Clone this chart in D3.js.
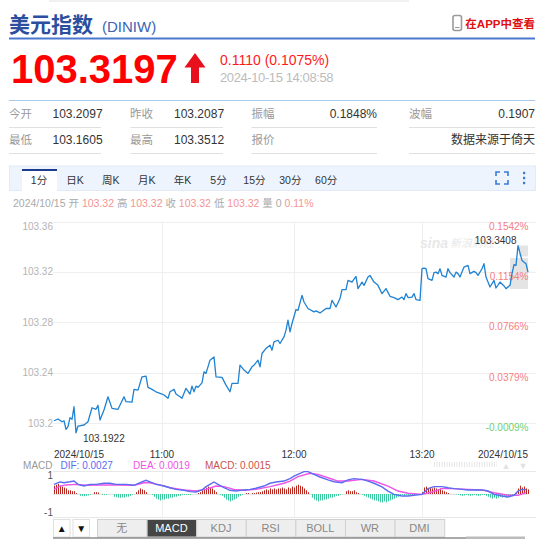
<!DOCTYPE html>
<html>
<head>
<meta charset="utf-8">
<script src="https://cdn.jsdelivr.net/npm/d3@7"></script>
<style>
  body { margin: 0; background: #fff; }
  svg { display: block; font-family: "Liberation Sans", Arial, "Noto Sans CJK SC", sans-serif; }
</style>
</head>
<body>
<div id="chart"></div>
<script>
// minute index of each sampled point and its price
var minuteIdx = [0,2,4,5,6,7,8,9,10,11,12,15,17,19,21,22,23,25,27,29,
  32,35,36,39,40,42,44,46,47,49,51,54,55,57,58,60,61,63,64,66,
  68,69,70,71,72,74,75,76,78,80,81,84,86,88,89,92,93,95,97,99,
  100,102,103,104,106,108,109,110,112,113,115,116,117,118,119,121,122,124,125,127,
  130,131,133,136,138,139,141,143,144,146,147,149,151,152,154,155,157,158,160,162,
  164,166,168,170,172,174,175,176,177,179,180,181,183,184,185,186,187,189,190,191,
  192,193,194,196,197,198,200,201,202,203,205,207,208,210,211,212,214,215,216,218,
  220,221,223,225,226,228,229,230,231,232,234,236,237];
var prices = [103.2018,103.2032,103.2010,103.2018,103.1950,103.1971,103.2042,103.2029,103.2129,103.1922,103.1976,103.1984,103.2010,103.2121,103.2109,103.2140,103.2024,103.2103,103.2208,103.2116,
  103.2109,103.2208,103.2169,103.2166,103.2267,103.2261,103.2367,103.2372,103.2283,103.2267,103.2248,103.2230,103.2222,103.2196,103.2248,103.2267,103.2230,103.2208,103.2196,103.2275,
  103.2230,103.2293,103.2248,103.2293,103.2283,103.2319,103.2406,103.2394,103.2499,103.2525,103.2367,103.2362,103.2301,103.2248,103.2314,103.2314,103.2459,103.2420,103.2394,103.2446,
  103.2459,103.2499,103.2446,103.2552,103.2592,103.2618,103.2578,103.2644,103.2657,103.2631,103.2684,103.2737,103.2816,103.2723,103.2790,103.2901,103.2895,103.3014,103.2961,103.2909,
  103.2882,103.2890,103.2874,103.2909,103.2909,103.2974,103.2921,103.2988,103.3059,103.3059,103.3133,103.3119,103.3164,103.3067,103.3119,103.3093,103.3159,103.3172,103.3119,103.3093,
  103.3027,103.3067,103.3006,103.2996,103.2980,103.3000,103.2980,103.3027,103.2996,103.3000,103.3027,103.2980,103.2974,103.3225,103.3230,103.3225,103.3146,103.3133,103.3194,103.3198,
  103.3186,103.3225,103.3172,103.3159,103.3225,103.3194,103.3159,103.3198,103.3186,103.3159,103.3238,103.3251,103.3186,103.3204,103.3194,103.3172,103.3225,103.3265,103.3159,103.3080,
  103.3133,103.3072,103.3119,103.3088,103.3067,103.3093,103.3186,103.3257,103.3251,103.3408,103.3291,103.3265,103.3197];

var yTicks = [103.2, 103.24, 103.28, 103.32, 103.36];
var yTickLabels = ["103.2", "103.24", "103.28", "103.32", "103.36"];
var pctLabels = ["-0.0009%", "0.0379%", "0.0766%", "0.1154%", "0.1542%"];
var timeTickIdx = [0, 54, 120, 184, 237];
var timeTickLabels = ["2024/10/15", "11:00", "12:00", "13:20", "2024/10/15"];

// MACD indicator
var difIdx = [0,3,5,8,10,12,15,18,21,25,28,31,36,40,43,46,48,51,55,58,61,65,68,71,74,76,78,80,82,85,88,91,95,98,101,105,108,111,115,118,
  120,125,127,130,133,137,140,144,147,150,154,157,160,164,167,170,174,177,180,184,187,190,194,197,200,204,207,210,214,217,220,224,227,230,232,234,236];
var difVals = [0.52,0.65,0.61,0.66,0.70,0.52,0.43,0.52,0.52,0.58,0.58,0.52,0.52,0.47,0.61,0.74,0.66,0.52,0.43,0.34,0.25,0.20,0.13,0.11,0.22,0.40,0.52,0.65,0.52,0.34,0.20,0.16,0.22,0.25,0.31,0.43,0.58,0.65,0.70,0.83,
  0.97,1.21,1.21,1.06,0.92,0.76,0.66,0.61,0.76,0.83,0.79,0.70,0.58,0.38,0.16,-0.02,-0.11,-0.11,-0.07,-0.02,0.29,0.40,0.40,0.34,0.29,0.25,0.22,0.22,0.22,0.16,-0.02,-0.11,-0.16,-0.07,0.16,0.25,0.22];
var deaIdx = [0,3,6,11,16,23,31,40,45,48,53,58,65,71,76,81,85,90,95,101,108,115,118,122,128,132,137,142,147,154,160,167,172,177,184,189,194,200,207,214,220,227,232,236];
var deaVals = [0.25,0.43,0.49,0.52,0.47,0.49,0.49,0.47,0.61,0.61,0.49,0.34,0.22,0.16,0.25,0.43,0.40,0.25,0.20,0.25,0.40,0.58,0.70,0.94,1.12,1.06,0.88,0.70,0.70,0.79,0.70,0.43,0.16,0.04,-0.02,0.11,0.29,0.29,0.25,0.22,0.07,-0.07,-0.07,0.07];
var macdBars = [
  0.45,0.5,0.55,0.45,0.4,0.35,0.3,
  0.2,0.2,0.15,0.15,
  0.05,0,
  -0.1,-0.12,-0.12,-0.1,-0.08,-0.05,
  0,0.1,0.1,
  0.08,0,
  -0.05,-0.05,-0.05,
  0,0,0,
  -0.15,-0.18,-0.2,-0.2,-0.18,-0.2,-0.15,-0.15,-0.1,
  -0.05,0,
  0.1,0.2,0.3,0.25,0.2,0.1,
  0,0,-0.05,
  -0.15,-0.25,-0.3,-0.35,-0.3,-0.3,-0.25,-0.25,-0.2,-0.2,-0.15,-0.15,-0.1,-0.1,
  -0.05,-0.05,-0.05,-0.05,-0.05,
  0,0,0,0.05,
  0.1,0.2,0.3,0.35,0.4,0.35,0.3,0.2,0.1,
  0,-0.05,
  -0.1,-0.2,-0.3,-0.35,-0.4,-0.35,-0.3,-0.25,-0.15,-0.1,
  -0.05,0,0.05,0.05,0,0.05,0.05,0.08,0.1,0.1,0.15,
  0.2,0.25,0.2,0.3,0.25,0.3,0.25,0.3,0.3,0.35,0.3,0.25,
  0.35,0.3,0.4,0.35,0.45,0.5,0.45,0.4,0.3,0.2,0.1,
  0,
  -0.2,-0.3,-0.35,-0.4,-0.35,-0.35,-0.3,-0.3,-0.25,-0.2,-0.2,-0.15,-0.1,-0.1,-0.05,
  0,0,
  0.15,0.2,0.15,0.15,0.2,0.1,0.05,
  0,-0.05,
  -0.1,-0.15,-0.2,-0.25,-0.3,-0.35,-0.35,-0.4,-0.45,-0.45,-0.4,-0.45,-0.4,-0.35,-0.3,-0.25,-0.2,-0.15,
  -0.1,-0.05,-0.1,-0.05,-0.08,-0.05,-0.05,-0.05,-0.03,0,0,
  0.1,
  0.35,0.4,0.3,0.35,0.3,0.35,0.3,0.25,0.3,0.2,0.15,
  0.1,0.05,0,0,0,-0.03,
  -0.05,-0.08,-0.1,-0.08,-0.05,-0.08,-0.1,-0.08,-0.05,-0.08,-0.1,-0.08,-0.05,-0.05,
  -0.1,
  -0.15,-0.2,-0.25,-0.2,-0.25,-0.2,-0.15,-0.2,-0.15,-0.2,-0.1,-0.1,-0.05,
  0,0.1,
  0.3,0.45,0.35,0.4,0.3,0.25];

var statsRow1 = [["今开", "103.2097"], ["昨收", "103.2087"], ["振幅", "0.1848%"], ["波幅", "0.1907"]];
var statsRow2 = [["最低", "103.1605"], ["最高", "103.3512"], ["报价", ""], ["", "数据来源于倚天"]];
var periodTabs = ["1分", "日K", "周K", "月K", "年K", "5分", "15分", "30分", "60分"];
var indicatorTabs = ["无", "MACD", "KDJ", "RSI", "BOLL", "WR", "DMI"];
var quoteParts = [["2024/10/15 ", 0], ["开 ", 0], ["103.32 ", 1], ["高 ", 0], ["103.32 ", 1], ["收 ", 0], ["103.32 ", 1], ["低 ", 0], ["103.32 ", 1], ["量 0 ", 0], ["0.11%", 1]];

var svg = d3.select("#chart").append("svg")
    .attr("width", 550)
    .attr("height", 539);

// header
svg.append("line").attr("x1", 49).attr("x2", 409).attr("y1", 1).attr("y2", 1).attr("stroke", "#e2e2e2");
svg.append("text").attr("x", 9).attr("y", 32).attr("font-size", 21).attr("font-weight", "bold")
    .attr("fill", "#2b4f9e").text("美元指数");
svg.append("text").attr("x", 102).attr("y", 32).attr("font-size", 15).attr("fill", "#3b64b5").text("(DINIW)");
svg.append("rect").attr("x", 9).attr("y", 37.5).attr("width", 526).attr("height", 2).attr("fill", "#4a78cf");

svg.append("rect").attr("x", 453).attr("y", 15.5).attr("width", 8.5).attr("height", 15).attr("rx", 2)
    .attr("fill", "none").attr("stroke", "#9a9a9a").attr("stroke-width", 1.6);
svg.append("line").attr("x1", 455).attr("x2", 459.5).attr("y1", 27.5).attr("y2", 27.5).attr("stroke", "#9a9a9a");
svg.append("text").attr("x", 535).attr("y", 27.5).attr("text-anchor", "end").attr("font-size", 11.5)
    .attr("font-weight", "bold").attr("fill", "#e01010").text("在APP中查看");

svg.append("text").attr("x", 11).attr("y", 83).attr("font-size", 40).attr("font-weight", "bold")
    .attr("fill", "#ff0000").text("103.3197");
svg.append("path").attr("d", "M195,53 L205.5,67.5 L199,67.5 L199,83 L191,83 L191,67.5 L184.5,67.5 Z")
    .attr("fill", "#e8101c");
svg.append("text").attr("x", 220).attr("y", 65).attr("font-size", 14).attr("fill", "#ff1a1a").text("0.1110 (0.1075%)");
svg.append("text").attr("x", 220).attr("y", 82).attr("font-size", 13).attr("letter-spacing", -0.4)
    .attr("fill", "#bcbcbc").text("2024-10-15 14:08:58");

svg.append("line").attr("x1", 9).attr("x2", 535).attr("y1", 100.5).attr("y2", 100.5).attr("stroke", "#a9c9ee");

// stats table
var colLabelX = [9, 130, 251.5, 409];
var colValX = [52.5, 174, 377, 535];
var colAnchor = ["start", "start", "end", "end"];
var sepSpans = [[9, 101], [130.5, 223], [251.5, 377], [409, 535]];
[statsRow1, statsRow2].forEach(function(row, r) {
    var by = 118 + r * 26;
    row.forEach(function(cell, c) {
        svg.append("text").attr("x", colLabelX[c]).attr("y", by).attr("font-size", 11.5)
            .attr("fill", "#9a9a9a").text(cell[0]);
        svg.append("text").attr("x", colValX[c]).attr("y", by).attr("font-size", 12)
            .attr("text-anchor", colAnchor[c]).attr("fill", "#333").text(cell[1]);
        svg.append("line").attr("x1", sepSpans[c][0]).attr("x2", sepSpans[c][1])
            .attr("y1", by + 9.5).attr("y2", by + 9.5).attr("stroke", "#e0e0e0");
    });
});

// period tab bar
svg.append("rect").attr("x", 9.5).attr("y", 166).attr("width", 526).attr("height", 24.5)
    .attr("fill", "#eef4fd").attr("stroke", "#e1eaf6");
svg.append("rect").attr("x", 22).attr("y", 170).attr("width", 35).attr("height", 21).attr("fill", "#fff");
svg.append("rect").attr("x", 22).attr("y", 169).attr("width", 35).attr("height", 2).attr("fill", "#1b3d8f");
svg.selectAll(".ptab").data(periodTabs).enter().append("text")
    .attr("class", "ptab")
    .attr("x", (d, i) => 39 + i * 35.9)
    .attr("y", 184)
    .attr("text-anchor", "middle")
    .attr("font-size", 10.5)
    .attr("fill", "#333")
    .text(d => d);
svg.append("path")
    .attr("d", "M496,176 V172 H500 M504,172 H508 V176 M508,180 V184 H504 M500,184 H496 V180")
    .attr("fill", "none").attr("stroke", "#3a7bd5").attr("stroke-width", 1.6);
[173, 178, 183].forEach(function(cy) {
    svg.append("rect").attr("x", 523).attr("y", cy - 1.2).attr("width", 2.2).attr("height", 2.4).attr("fill", "#3a7bd5");
});

// quote line
var quote = svg.append("text").attr("x", 13).attr("y", 206.5).attr("font-size", 10.5);
quoteParts.forEach(function(p) {
    quote.append("tspan").attr("fill", p[1] ? "#f59494" : "#aaaaaa").text(p[0]);
});

// price chart
var x = d3.scaleLinear().domain([0, 237]).range([54, 528]);
var y = d3.scaleLinear().domain([103.2, 103.36]).range([423, 221.5]);

var grid = svg.append("g");
grid.selectAll(".hg").data(yTicks).enter().append("line")
    .attr("x1", 53).attr("x2", 536)
    .attr("y1", d => Math.round(y(d)) + 0.5).attr("y2", d => Math.round(y(d)) + 0.5)
    .attr("stroke", "#efefef");
grid.selectAll(".vg").data(timeTickIdx.slice(1, 4)).enter().append("line")
    .attr("x1", d => x(d) + 0.5).attr("x2", d => x(d) + 0.5)
    .attr("y1", 221.5).attr("y2", 450)
    .attr("stroke", "#efefef");

svg.selectAll(".yl").data(yTicks).enter().append("text")
    .attr("x", 53)
    .attr("y", (d, i) => y(d) + (i === yTicks.length - 1 ? 8 : 3.5))
    .attr("text-anchor", "end")
    .attr("font-size", 10)
    .attr("fill", "#b4b4b4")
    .text((d, i) => yTickLabels[i]);

// watermark
svg.append("text").attr("x", 420).attr("y", 248).attr("font-size", 14).attr("font-weight", "bold")
    .attr("font-style", "italic").attr("fill", "#e8e8e8").text("sina");
svg.append("text").attr("x", 450).attr("y", 247).attr("font-size", 11).attr("font-style", "italic")
    .attr("fill", "#e8e8e8").text("新浪财经");

// current price tag
svg.append("rect").attr("x", 519).attr("y", 245.5).attr("width", 9).attr("height", 11).attr("fill", "#e4e4e4");
svg.append("rect").attr("x", 510).attr("y", 258).attr("width", 18).attr("height", 31).attr("fill", "#e4e4e4");

svg.selectAll(".pl").data(yTicks).enter().append("text")
    .attr("x", 528.5)
    .attr("y", d => y(d) + 8)
    .attr("text-anchor", "end")
    .attr("font-size", 10)
    .attr("fill", (d, i) => pctLabels[i].charAt(0) === "-" ? "#6fcf6f" : "#f78080")
    .text((d, i) => pctLabels[i]);

var series = minuteIdx.map((m, i) => ({ i: m, v: prices[i] }));
svg.append("path")
    .datum(series)
    .attr("fill", "none")
    .attr("stroke", "#1f82d2")
    .attr("stroke-width", 1.3)
    .attr("stroke-linejoin", "round")
    .attr("d", d3.line().x(d => x(d.i)).y(d => y(d.v)));

var hi = series[d3.maxIndex(series, d => d.v)];
var lo = series[d3.minIndex(series, d => d.v)];
svg.append("text").attr("x", x(hi.i) - 1.5).attr("y", y(hi.v) - 1.5)
    .attr("text-anchor", "end").attr("font-size", 10).attr("fill", "#333").text(hi.v.toFixed(4));
svg.append("text").attr("x", x(lo.i) + 7).attr("y", y(lo.v) + 9)
    .attr("font-size", 10).attr("fill", "#333").text(lo.v.toFixed(4));

svg.selectAll(".tl").data(timeTickIdx).enter().append("text")
    .attr("x", d => x(d))
    .attr("y", 457.5)
    .attr("text-anchor", (d, i) => i === 0 ? "start" : (i === timeTickIdx.length - 1 ? "end" : "middle"))
    .attr("font-size", 10)
    .attr("fill", "#333")
    .text((d, i) => timeTickLabels[i]);

// MACD legend
var legend = [["MACD", 52.5, "#999", "end"], ["DIF: 0.0027", 60.5, "#5a6df2", "start"], ["DEA: 0.0019", 133, "#ee52e6", "start"], ["MACD: 0.0015", 205, "#c9524c", "start"]];
legend.forEach(function(l) {
    svg.append("text").attr("x", l[1]).attr("y", 468.5).attr("font-size", 10)
        .attr("text-anchor", l[3]).attr("fill", l[2]).text(l[0]);
});
svg.append("line").attr("x1", 434).attr("x2", 497).attr("y1", 464.5).attr("y2", 464.5)
    .attr("stroke", "#e6e6e6").attr("stroke-width", 5).attr("stroke-dasharray", "1,1.5");
svg.append("text").attr("x", 506).attr("y", 468.5).attr("text-anchor", "middle").attr("font-size", 9).attr("fill", "#e2e2e2").text("▲");
svg.append("text").attr("x", 523).attr("y", 468.5).attr("text-anchor", "middle").attr("font-size", 9).attr("fill", "#e2e2e2").text("▼");

// MACD panel
var ym = d3.scaleLinear().domain([-1, 1]).range([512.5, 475.5]);
svg.append("line").attr("x1", 53).attr("x2", 536).attr("y1", 471.5).attr("y2", 471.5).attr("stroke", "#e8e8e8");
svg.append("line").attr("x1", 53).attr("x2", 536).attr("y1", 517.5).attr("y2", 517.5).attr("stroke", "#e8e8e8");
svg.append("line").attr("x1", 53).attr("x2", 528).attr("y1", ym(0) + 0.5).attr("y2", ym(0) + 0.5).attr("stroke", "#e4e4e4");
svg.selectAll(".mvg").data(timeTickIdx.slice(1, 4)).enter().append("line")
    .attr("x1", d => x(d) + 0.5).attr("x2", d => x(d) + 0.5)
    .attr("y1", 471.5).attr("y2", 517.5)
    .attr("stroke", "#efefef");
svg.append("text").attr("x", 53).attr("y", 478.5).attr("text-anchor", "end").attr("font-size", 10).attr("fill", "#555").text("1");
svg.append("text").attr("x", 53).attr("y", 515.5).attr("text-anchor", "end").attr("font-size", 10).attr("fill", "#555").text("-1");

svg.selectAll(".mb").data(macdBars).enter().append("line")
    .attr("x1", (d, i) => x(i) + 0.5).attr("x2", (d, i) => x(i) + 0.5)
    .attr("y1", ym(0)).attr("y2", d => ym(d))
    .attr("stroke", d => d >= 0 ? "#b8281f" : "#3ccb9c")
    .attr("stroke-width", 1);

var macdLine = d3.line().x(d => x(d.i)).y(d => ym(d.v));
svg.append("path").datum(deaIdx.map((m, i) => ({ i: m, v: deaVals[i] })))
    .attr("fill", "none").attr("stroke", "#ee52e6").attr("stroke-width", 1.4).attr("d", macdLine);
svg.append("path").datum(difIdx.map((m, i) => ({ i: m, v: difVals[i] })))
    .attr("fill", "none").attr("stroke", "#5a6df2").attr("stroke-width", 1.4).attr("d", macdLine);

// indicator buttons
[[53, "▲"], [72.5, "▼"]].forEach(function(b) {
    svg.append("rect").attr("x", b[0] + 0.5).attr("y", 519.5).attr("width", 16.5).attr("height", 17.5)
        .attr("fill", "#fff").attr("stroke", "#e0e0e0");
    svg.append("text").attr("x", b[0] + 8.75).attr("y", 532).attr("text-anchor", "middle")
        .attr("font-size", 10).attr("fill", "#111").text(b[1]);
});
var tabW = 49.6;
indicatorTabs.forEach(function(t, i) {
    var tx = 97 + i * tabW;
    svg.append("rect").attr("x", tx + 0.5).attr("y", 519.5).attr("width", tabW).attr("height", 17.5)
        .attr("fill", t === "MACD" ? "#454545" : "#eeeeee").attr("stroke", "#d0d0d0");
    svg.append("text").attr("x", tx + tabW / 2).attr("y", 532).attr("text-anchor", "middle")
        .attr("font-size", 11).attr("fill", t === "MACD" ? "#fff" : "#888").text(t);
});
svg.append("line").attr("x1", 53).attr("x2", 525).attr("y1", 538).attr("y2", 538).attr("stroke", "#555");
svg.append("rect").attr("x", 466).attr("y", 536.5).attr("width", 59).attr("height", 2.5).attr("fill", "#bbb");
</script>
</body>
</html>
